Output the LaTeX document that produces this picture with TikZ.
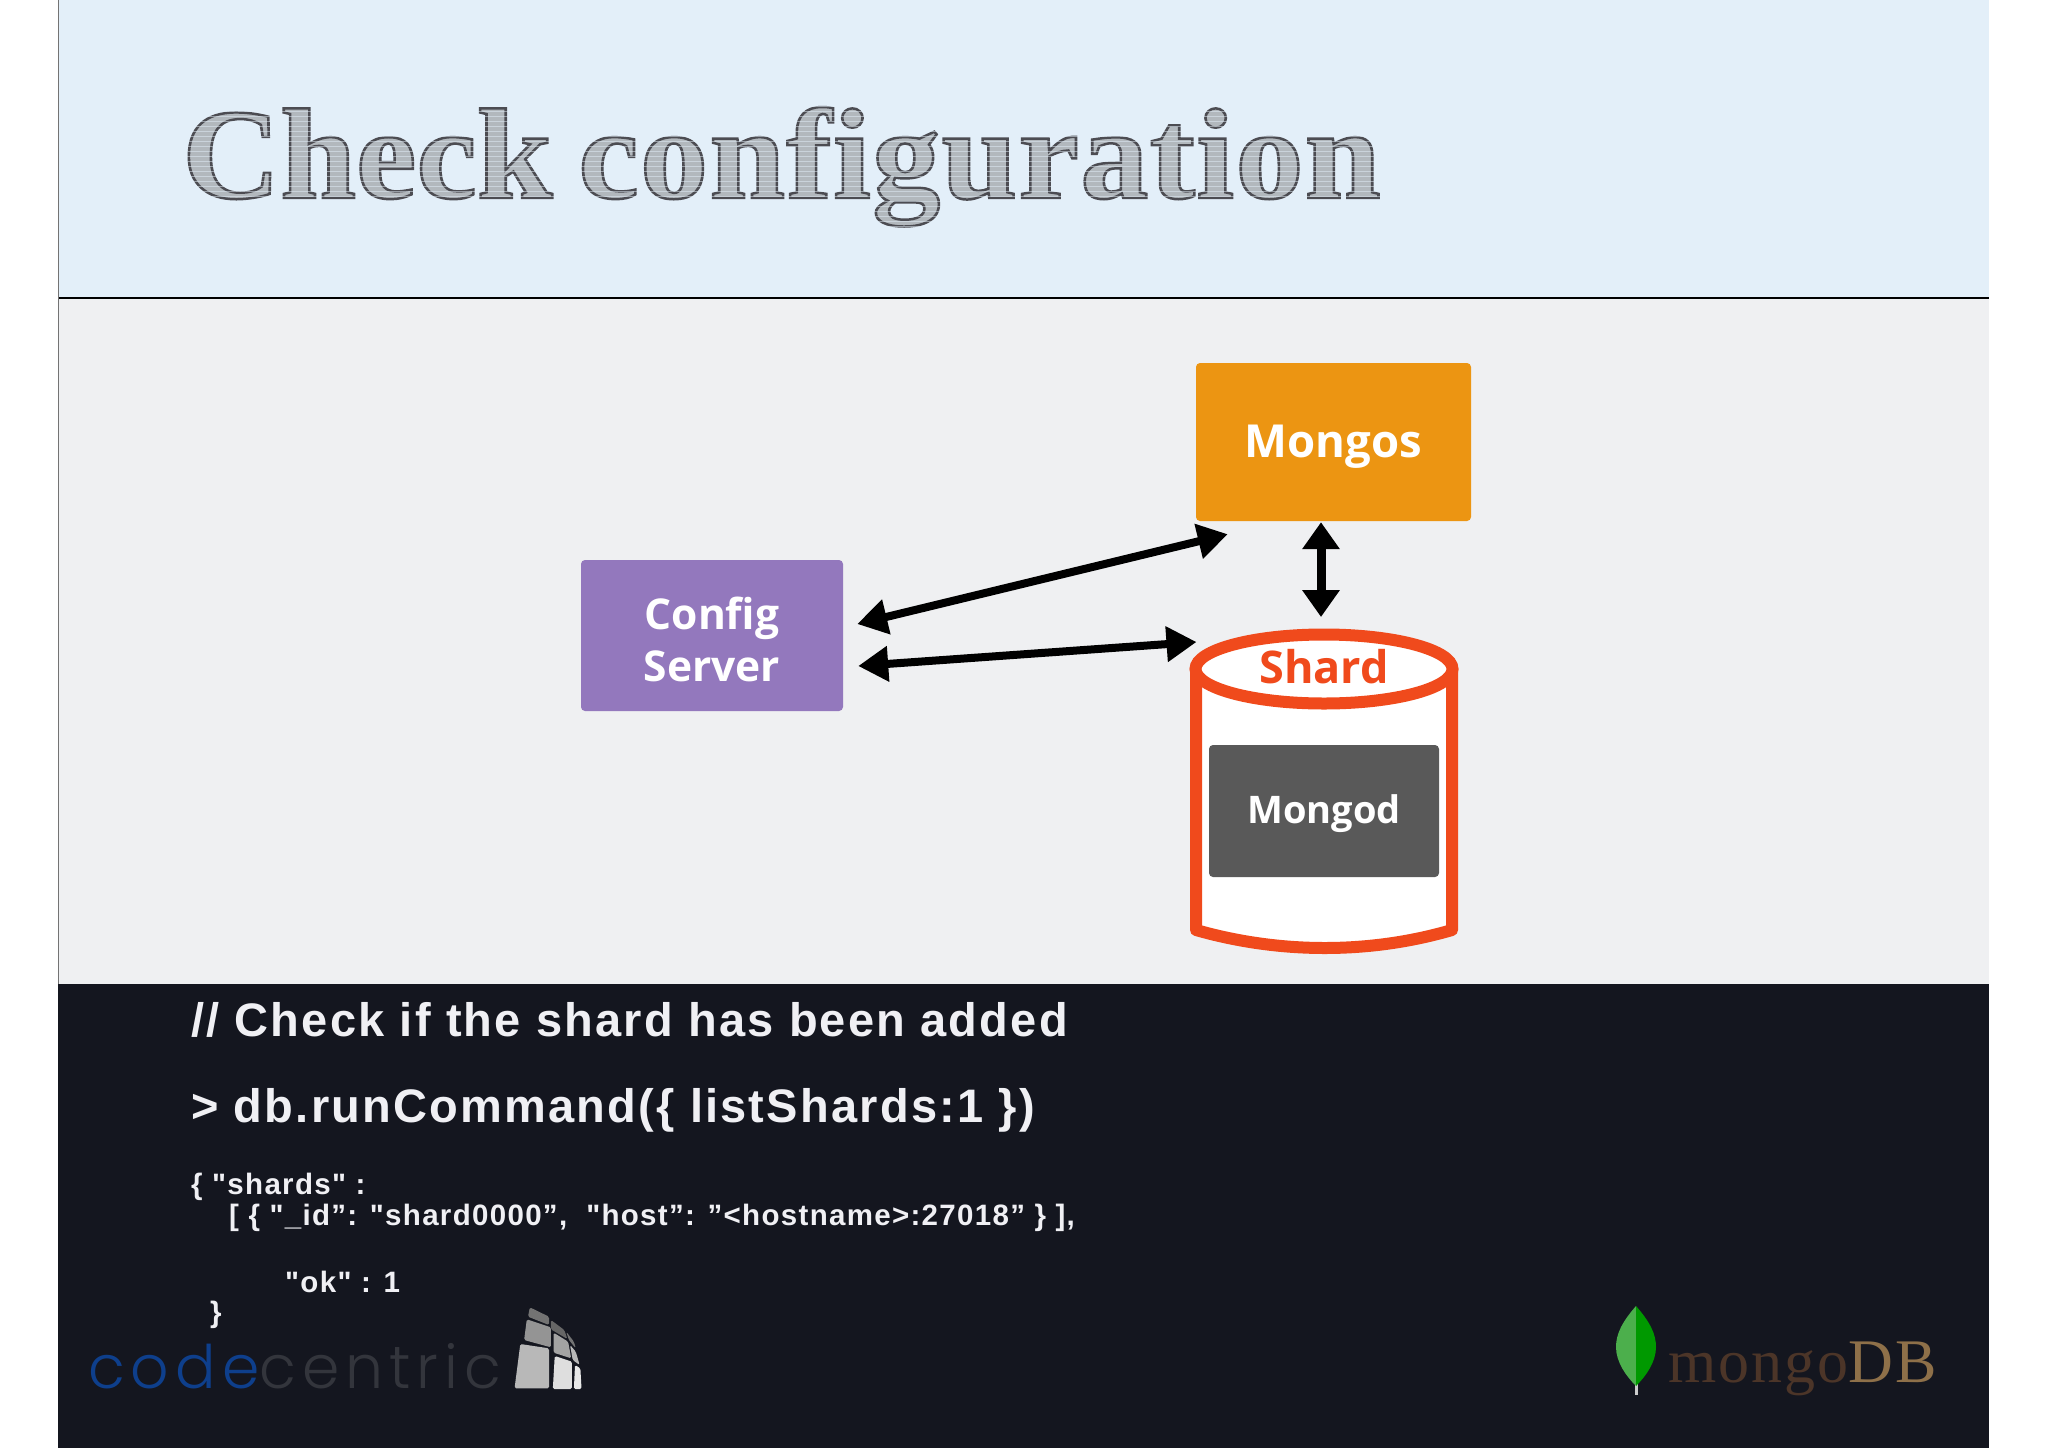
\documentclass[tikz,border=0pt]{standalone}
\usepackage{fontspec}
\usetikzlibrary{arrows.meta,shapes.geometric,calc}
\setmainfont{Liberation Sans}
\newfontfamily\labelfont{Open Sans}
\newfontfamily\codefontA[LetterSpace=4.7]{Liberation Sans}
\newfontfamily\codefontB[LetterSpace=4.45]{Liberation Sans}
\newfontfamily\titlefont{Liberation Serif}
\newfontfamily\titlefontB[LetterSpace=1]{Liberation Serif}
\newfontfamily\logoserif[LetterSpace=3.3]{Liberation Serif}
\newfontfamily\logosans[LetterSpace=10,UprightFont=* Light]{Poppins}
\definecolor{topband}{HTML}{E3EFF9}
\definecolor{midband}{HTML}{EFF0F2}
\definecolor{darkband}{HTML}{14161F}
\definecolor{mongosfill}{HTML}{EC9512}
\definecolor{configfill}{HTML}{9378BD}
\definecolor{shardred}{HTML}{F04A1C}
\definecolor{mongodfill}{HTML}{595959}
\definecolor{codewhite}{HTML}{F0F0F4}
\definecolor{ccblue}{HTML}{0E3F8C}
\definecolor{ccgray}{HTML}{33353C}
\definecolor{mdbbrown}{HTML}{4C3528}
\definecolor{mdbgold}{HTML}{8E7049}
\tikzset{
  box/.style={rounded corners=4pt,inner sep=0pt,align=center,text=white,font=\labelfont\bfseries},
  darrow/.style={line width=8pt,{Triangle[length=30pt,width=34pt]}-{Triangle[length=30pt,width=34pt]},black},
  varrow/.style={line width=9pt,{Triangle[length=27pt,width=36pt]}-{Triangle[length=27pt,width=36pt]},black},
  codeA/.style={anchor=base west,inner sep=0pt,text=codewhite,font=\codefontA\bfseries\fontsize{47}{47}\selectfont},
  codeB/.style={anchor=base west,inner sep=0pt,text=codewhite,font=\codefontB\bfseries\fontsize{29.5}{30}\selectfont},
  hatch/.style={line width=1pt,draw=topband,opacity=.5},
}
\begin{document}
\begin{tikzpicture}[x=1pt,y=-1pt]
\useasboundingbox (0,0) rectangle (2048,1448);
\fill[white] (0,0) rectangle (2048,1448);
\fill[topband] (58,0) rectangle (1989,298);
\fill[midband] (58,298) rectangle (1989,984);
\fill[darkband] (58,984) rectangle (1989,1448);
\draw[black,line width=2pt] (58,298) -- (1989,298);
\draw[black!55,line width=.8pt] (58,0) -- (58,984);

% title
\node[anchor=base west,inner sep=0pt] (title) at (182,198) {\fontsize{136}{136}\selectfont
  \scalebox{1}[.95]{\special{pdf:code 2 Tr 2.6 w 0.30 0.30 0.32 RG 0.70 0.72 0.74 rg}{\titlefont\bfseries Check}\hspace{26pt}{\titlefontB\bfseries configuration}\special{pdf:code 0 Tr 1 w}}};
\foreach \yy in {106,111,...,228}{
  \draw[hatch] (175,\yy) -- (1390,\yy);
}

% diagram
\node[box,fill=mongosfill,minimum width=275pt,minimum height=158pt,font=\labelfont\bfseries\fontsize{45.5}{46}\selectfont] (mongos) at (1333.5,442) {\raisebox{-15pt}[0pt][0pt]{Mongos}};
\node[box,fill=configfill,minimum width=262pt,minimum height=151pt,font=\labelfont\bfseries\fontsize{42.5}{52}\selectfont] (config) at (712,635.5) {\raisebox{-16pt}[0pt][0pt]{\begin{tabular}{@{}c@{}}Config\\Server\end{tabular}}};

\fill[white] (1196,669) -- (1196,930) .. controls (1280,950) and (1370,950) .. (1452,930) -- (1452,669) -- cycle;
\draw[shardred,line width=12pt,line join=round] (1196,669) -- (1196,930) .. controls (1280,954) and (1370,954) .. (1452,930) -- (1452,669);
\node[ellipse,draw=shardred,line width=12pt,fill=white,minimum width=257pt,minimum height=69pt,inner sep=0pt,text=shardred,font=\labelfont\bfseries\fontsize{45}{45}\selectfont] (shard) at (1324,669) {\raisebox{-14pt}[0pt][0pt]{Shard}};
\node[box,fill=mongodfill,minimum width=230pt,minimum height=132pt,font=\labelfont\bfseries\fontsize{38}{38}\selectfont] (mongod) at (1324,811) {\raisebox{-12pt}[0pt][0pt]{Mongod}};

\draw[darrow] ([shift={(14,-11.5)}]config.east) -- ([shift={(32,13)}]mongos.south west);
\draw[darrow] ([shift={(15,30.5)}]config.east) -- ([shift={(7,-27)}]shard.west);
\draw[varrow] ([shift={(-12.5,1)}]mongos.south) -- ([shift={(-3,-52)}]shard.center);

% code
\node[codeA] (c1) at (191,1036) {// Check if the shard has been added};
\node[codeA] (c2) at (191,1122) {> db.runCommand(\{ listShards:1 \})};
\node[codeB] (c3) at (191,1194) {\{ "shards" :};
\node[codeB] (c4) at (229,1225) {[ \{ "\_id”: "shard0000”,\ \ "host”: ”<hostname>:27018” \} ],};
\node[codeB] (c5) at (285,1292) {"ok" : 1};
\node[codeB] (c6) at (210,1322) {\}};

% codecentric logo
\node[anchor=base west,inner sep=0pt,font=\logosans\fontsize{60}{60}\selectfont] (cc) at (88,1388) {\textcolor{ccblue}{code}\textcolor{ccgray}{centric}};
\begin{scope}[xshift=40pt,yshift=-1270pt,x=.3827pt,y=-.3333pt,rounded corners=1.5pt]
\fill[black!28] (1255,222) -- (1330,235) -- (1330,355) -- (1240,355) -- cycle;
\fill[black!13] (1345,258) -- (1390,275) -- (1390,357) -- (1340,357) -- cycle;
\fill[black!9] (1398,285) -- (1412,295) -- (1415,357) -- (1395,357) -- cycle;
\fill[black!42] (1272,148) -- (1335,172) -- (1335,232) -- (1265,210) -- cycle;
\fill[black!36] (1342,188) -- (1380,215) -- (1388,265) -- (1342,248) -- cycle;
\fill[black!28] (1385,225) -- (1400,245) -- (1410,285) -- (1392,270) -- cycle;
\fill[black!55] (1280,112) -- (1330,140) -- (1330,165) -- (1275,140) -- cycle;
\fill[black!60] (1335,150) -- (1370,180) -- (1378,207) -- (1335,178) -- cycle;
\fill[black!55] (1375,185) -- (1395,215) -- (1400,235) -- (1382,210) -- cycle;
\end{scope}

% mongoDB logo
\fill[black!20] (1635,1380) rectangle (1638,1395);
\fill[green!55!black!70!white] (1636,1306) .. controls (1622,1322) and (1616,1334) .. (1616,1347) .. controls (1616,1362) and (1626,1376) .. (1636,1386) -- cycle;
\fill[green!60!black] (1636,1306) .. controls (1650,1322) and (1656,1334) .. (1656,1347) .. controls (1656,1362) and (1646,1376) .. (1636,1386) -- cycle;
\node[anchor=base west,inner sep=0pt,font=\logoserif\fontsize{62}{62}\selectfont] (mdb) at (1668,1382) {\textcolor{mdbbrown}{mongo}\textcolor{mdbgold}{DB}};
\end{tikzpicture}
\end{document}
